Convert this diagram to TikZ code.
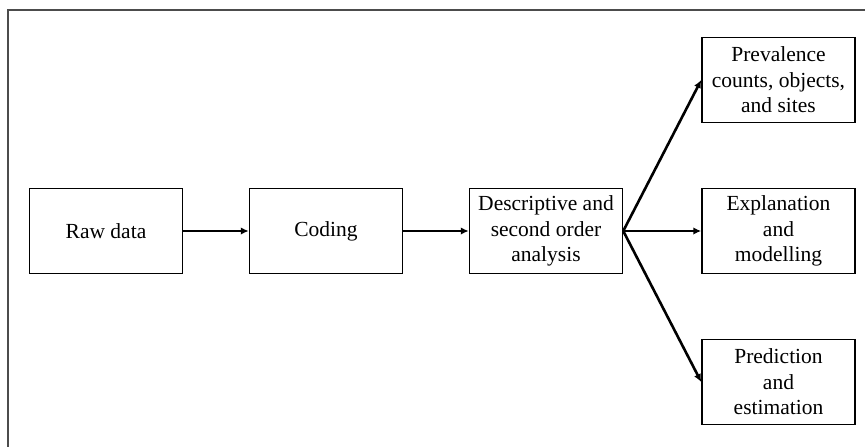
\documentclass[tikz,border=0pt]{standalone}
\usepackage{fontspec}
\setmainfont{Liberation Serif}
\usetikzlibrary{positioning,arrows.meta}
\begin{document}
\begin{tikzpicture}[x=1pt, y=1pt,
		stage/.style={draw, line width=1.5pt, minimum width=153pt, minimum height=85pt, align=center, inner sep=2pt, font=\fontsize{21.5}{25.5}\selectfont},
		flow/.style={-{Latex[length=8pt, width=7.5pt]}, line width=2.6pt}]
				\useasboundingbox (0,0) rectangle (865,-447);
				% Frame
				\draw[line width=1.8pt, black!70] (8,-447) -- (8,-10) -- (865,-10);

				% Pipeline
				\node[stage] (rawdata) at (106,-231) {Raw data};
				\node[stage, right=65.5pt of rawdata] (coding) {Coding};
				\node[stage, right=65.5pt of coding] (analysis) {Descriptive and\\second order\\analysis};

				% Outcomes
				\node[stage, right=78pt of analysis] (explanation) {Explanation\\and\\modelling};
				\node[stage, above=64.5pt of explanation] (prevalence) {Prevalence\\counts, objects,\\and sites};
				\node[stage, below=64.5pt of explanation] (prediction) {Prediction\\and\\estimation};

				\draw[flow] (rawdata) -- (coding);
				\draw[flow] (coding) -- (analysis);
				\draw[flow] (analysis.east) -- (prevalence.west);
				\draw[flow] (analysis.east) -- (explanation.west);
				\draw[flow] (analysis.east) -- (prediction.west);
			\end{tikzpicture}
\end{document}
